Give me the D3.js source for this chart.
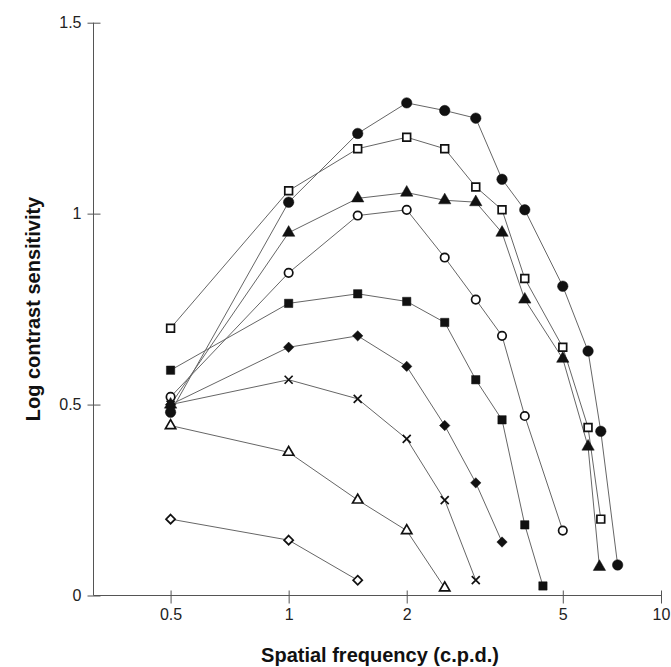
<!DOCTYPE html>
<html>
<head>
<meta charset="utf-8">
<script src="https://cdn.jsdelivr.net/npm/d3@7"></script>
<style>
    body { margin: 0; background: #fff; }
    svg { display: block; font-family: Arial, "Liberation Sans", sans-serif; }
</style>
</head>
<body>
<svg id="chart" width="671" height="667"></svg>
<script>
// x tick values and their labels (axis is cut before 10, the last tick sits at the end)
const xMin = 0.318, xMax = 8.9;
const xTickValues = [0.5, 1, 2, 5, xMax];
const xTickLabels = ["0.5", "1", "2", "5", "10"];
const yTickValues = [0, 0.5, 1, 1.5];
const yTickLabels = ["0", "0.5", "1", "1.5"];

// series: spatial frequency (c.p.d.) and log contrast sensitivity
const filledCircleF = [0.5, 1, 1.5, 2, 2.5, 3, 3.5, 4, 5, 5.8, 6.25, 6.9];
const filledCircleV = [0.48, 1.03, 1.21, 1.29, 1.27, 1.25, 1.09, 1.01, 0.81, 0.64, 0.43, 0.08];
const openSquareF = [0.5, 1, 1.5, 2, 2.5, 3, 3.5, 4, 5, 5.8, 6.25];
const openSquareV = [0.70, 1.06, 1.17, 1.20, 1.17, 1.07, 1.01, 0.83, 0.65, 0.44, 0.20];
const filledTriangleF = [0.5, 1, 1.5, 2, 2.5, 3, 3.5, 4, 5, 5.8, 6.2];
const filledTriangleV = [0.50, 0.95, 1.04, 1.055, 1.035, 1.03, 0.95, 0.775, 0.62, 0.39, 0.075];
const openCircleF = [0.5, 1, 1.5, 2, 2.5, 3, 3.5, 4, 5];
const openCircleV = [0.52, 0.845, 0.995, 1.01, 0.885, 0.775, 0.68, 0.47, 0.17];
const filledSquareF = [0.5, 1, 1.5, 2, 2.5, 3, 3.5, 4, 4.45];
const filledSquareV = [0.59, 0.765, 0.79, 0.77, 0.715, 0.565, 0.46, 0.185, 0.025];
const filledDiamondF = [0.5, 1, 1.5, 2, 2.5, 3, 3.5];
const filledDiamondV = [0.50, 0.65, 0.68, 0.60, 0.445, 0.295, 0.14];
const crossF = [0.5, 1, 1.5, 2, 2.5, 3];
const crossV = [0.50, 0.565, 0.515, 0.41, 0.25, 0.04];
const openTriangleF = [0.5, 1, 1.5, 2, 2.5];
const openTriangleV = [0.445, 0.375, 0.25, 0.17, 0.02];
const openDiamondF = [0.5, 1, 1.5];
const openDiamondV = [0.20, 0.145, 0.04];

// custom symbols
const diamondSym = {
    draw(ctx, size) {
        let r = Math.sqrt(size / 2);
        ctx.moveTo(0, -r); ctx.lineTo(r, 0); ctx.lineTo(0, r); ctx.lineTo(-r, 0); ctx.closePath();
    }
};
const crossSym = {
    draw(ctx, size) {
        let r = Math.sqrt(size) / 2;
        ctx.moveTo(-r, -r); ctx.lineTo(r, r);
        ctx.moveTo(r, -r); ctx.lineTo(-r, r);
    }
};

let series = [
    { f: openDiamondF, v: openDiamondV, type: diamondSym, size: 42, open: true },
    { f: openTriangleF, v: openTriangleV, type: d3.symbolTriangle, size: 46, open: true },
    { f: crossF, v: crossV, type: crossSym, size: 64, open: true, cross: true },
    { f: filledDiamondF, v: filledDiamondV, type: diamondSym, size: 54, open: false },
    { f: filledSquareF, v: filledSquareV, type: d3.symbolSquare, size: 70, open: false },
    { f: openCircleF, v: openCircleV, type: d3.symbolCircle, size: 56, open: true },
    { f: filledTriangleF, v: filledTriangleV, type: d3.symbolTriangle, size: 66, open: false },
    { f: openSquareF, v: openSquareV, type: d3.symbolSquare, size: 60, open: true },
    { f: filledCircleF, v: filledCircleV, type: d3.symbolCircle, size: 86, open: false }
];

let svg = d3.select('#chart');

let xScale = d3.scaleLog().domain([xMin, xMax]).range([93.5, 661]);
let yScale = d3.scaleLinear().domain([0, 1.5]).range([595.5, 22.7]);

// axes
let xAxis = d3.axisBottom(xScale)
    .tickValues(xTickValues)
    .tickSize(8)
    .tickFormat((d, i) => xTickLabels[i]);
let yAxis = d3.axisLeft(yScale)
    .tickValues(yTickValues)
    .tickSize(6)
    .tickFormat((d, i) => yTickLabels[i]);

let xAxisG = svg.append('g')
    .attr('transform', 'translate(0,' + yScale(0) + ')')
    .call(xAxis);
xAxisG.select('.domain').attr('d', 'M' + xScale(xMin) + ',0H' + xScale(xMax));
xAxisG.selectAll('.tick line').attr('y1', -5);
xAxisG.selectAll('.tick text').attr('y', 13).attr('dy', '0.71em');

let yAxisG = svg.append('g')
    .attr('transform', 'translate(' + xScale(xMin) + ',0)')
    .call(yAxis);
yAxisG.select('.domain').attr('d', 'M0,' + yScale(1.5) + 'V' + yScale(0));
yAxisG.selectAll('.tick line').attr('x1', -6).attr('x2', 7);
yAxisG.selectAll('.tick text').attr('x', -12);

svg.selectAll('.domain, .tick line').attr('stroke', '#555').attr('stroke-width', 1);
svg.selectAll('.tick text')
    .attr('fill', '#222')
    .style('font-size', '16px')
    .style('font-family', 'Arial, "Liberation Sans", sans-serif');

// lines first
let line = d3.line()
    .x(d => xScale(d[0]))
    .y(d => yScale(d[1]));

series.forEach(s => {
    let pts = s.f.map((f, i) => [f, s.v[i]]);
    svg.append('path')
        .datum(pts)
        .attr('d', line)
        .attr('fill', 'none')
        .attr('stroke', '#666')
        .attr('stroke-width', 1);
});

// markers on top
series.forEach(s => {
    let pts = s.f.map((f, i) => [f, s.v[i]]);
    svg.append('g')
        .selectAll('path')
        .data(pts)
        .enter()
        .append('path')
        .attr('transform', d => 'translate(' + xScale(d[0]) + ',' + yScale(d[1]) + ')')
        .attr('d', d3.symbol().type(s.type).size(s.size))
        .attr('fill', s.cross ? 'none' : (s.open ? '#fff' : '#111'))
        .attr('stroke', '#111')
        .attr('stroke-width', s.open ? 1.7 : 0.5);
});

// axis titles
svg.append('text')
    .attr('x', 380)
    .attr('y', 662)
    .attr('text-anchor', 'middle')
    .style('font-size', '20px')
    .style('font-weight', 'bold')
    .attr('fill', '#111')
    .text('Spatial frequency (c.p.d.)');

svg.append('text')
    .attr('transform', 'translate(40,309) rotate(-90)')
    .attr('text-anchor', 'middle')
    .style('font-size', '20px')
    .style('font-weight', 'bold')
    .attr('fill', '#111')
    .text('Log contrast sensitivity');
</script>
</body>
</html>
